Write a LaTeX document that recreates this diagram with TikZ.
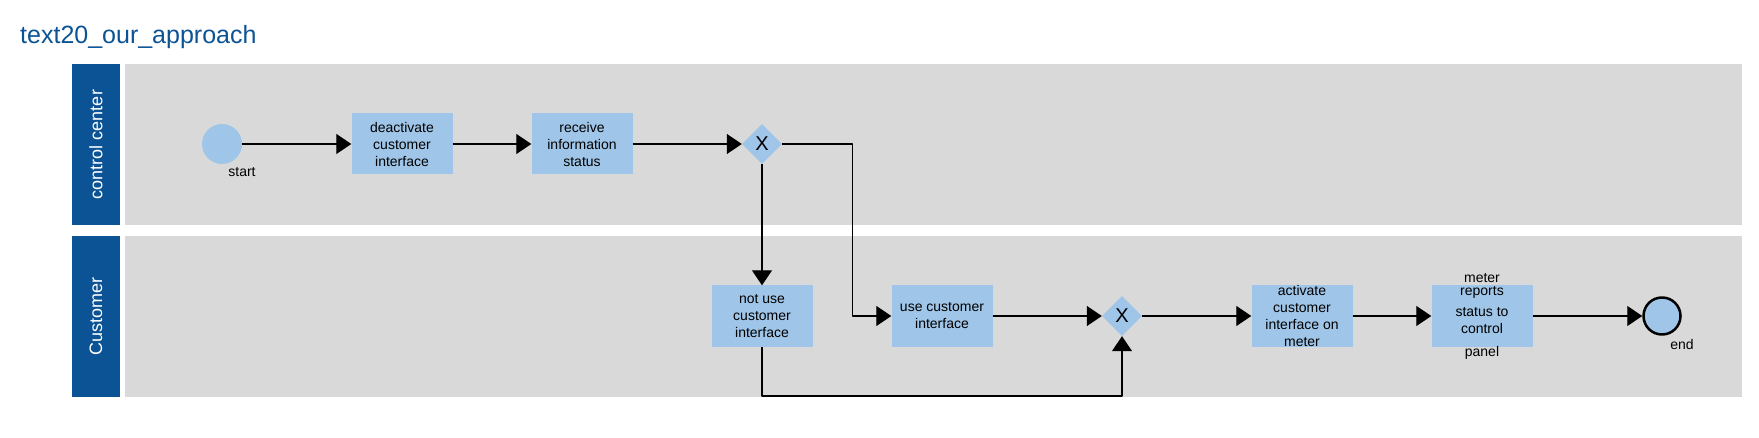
\documentclass[tikz,border=0pt]{standalone}
\usepackage{fontspec}
\setmainfont{Liberation Sans}
\usetikzlibrary{arrows.meta,shapes.geometric}
\definecolor{laneblue}{RGB}{11,83,148}
\definecolor{lanegray}{RGB}{217,217,217}
\definecolor{taskblue}{RGB}{159,197,232}
\begin{document}
\begin{tikzpicture}[x=1pt, y=-1pt, line join=round, >={Triangle[length=15pt,width=20pt]},
	task/.style={fill=taskblue, minimum width=101pt, minimum height=61pt, inner xsep=0pt, inner ysep=0pt, align=center, font=\fontsize{14pt}{17pt}\selectfont},
	gate/.style={diamond, fill=taskblue, minimum size=40pt, inner sep=0pt, font=\fontsize{20pt}{24pt}\selectfont},
	event/.style={circle, fill=taskblue, minimum size=40pt, inner sep=0pt},
	evlabel/.style={font=\fontsize{14pt}{17pt}\selectfont, xshift=20pt},
	flow/.style={->, line width=1.2pt},
	lanehead/.style={text=white, rotate=90, font=\fontsize{18pt}{21pt}\selectfont}]
	\useasboundingbox (0,0) rectangle (1759,438);
	\node[anchor=base west, inner sep=0pt, text=laneblue, font=\fontsize{25pt}{30pt}\selectfont] (title) at (20,44) {text20\_our\_approach};
	% lanes
	\foreach \top/\name in {64/control center, 236/Customer} {
		\fill[lanegray] (125,\top) rectangle (1742,\top+161);
		\fill[laneblue] (72,\top) rectangle (120,\top+161);
		\node[lanehead] at (96,\top+80.5) {\name};
	}
	% control center
	\node[event, label={[evlabel]below:start}] (start) at (222,144) {};
	\node[task] (deact) at (402,144) {deactivate\\customer\\interface};
	\node[task] (recv) at (582,144) {receive\\information\\status};
	\node[gate] (gw1) at (762,144) {X};
	% customer
	\node[task] (notuse) at (762,316) {not use\\customer\\interface};
	\node[task] (use) at (942,316) {use customer\\interface};
	\node[gate] (gw2) at (1122,316) {X};
	\node[task, inner ysep=-4pt] (act) at (1302,316) {activate\\customer\\interface on\\meter};
	\node[task, inner ysep=-14pt] (report) at (1482,316) {meter\\[-3.7pt]reports\\[4pt]status to\\control\\[5.7pt]panel};
	\node[event, draw, line width=2.5pt, minimum size=37pt, label={[evlabel]below:end}] (stop) at (1662,316) {};
	\coordinate (loop) at (1122,396);
	% flows
	\draw[flow] (start) -- (deact);
	\draw[flow] (deact) -- (recv);
	\draw[flow] (recv) -- (gw1);
	\draw[flow] (gw1) -- (notuse);
	\draw[flow] (gw1.east) -- ++(70,0) |- (use);
	\draw[flow] (use) -- (gw2);
	\draw[flow] (notuse) |- (loop) -- (gw2);
	\draw[flow] (gw2) -- (act);
	\draw[flow] (act) -- (report);
	\draw[flow] (report) -- (stop);
\end{tikzpicture}
\end{document}
